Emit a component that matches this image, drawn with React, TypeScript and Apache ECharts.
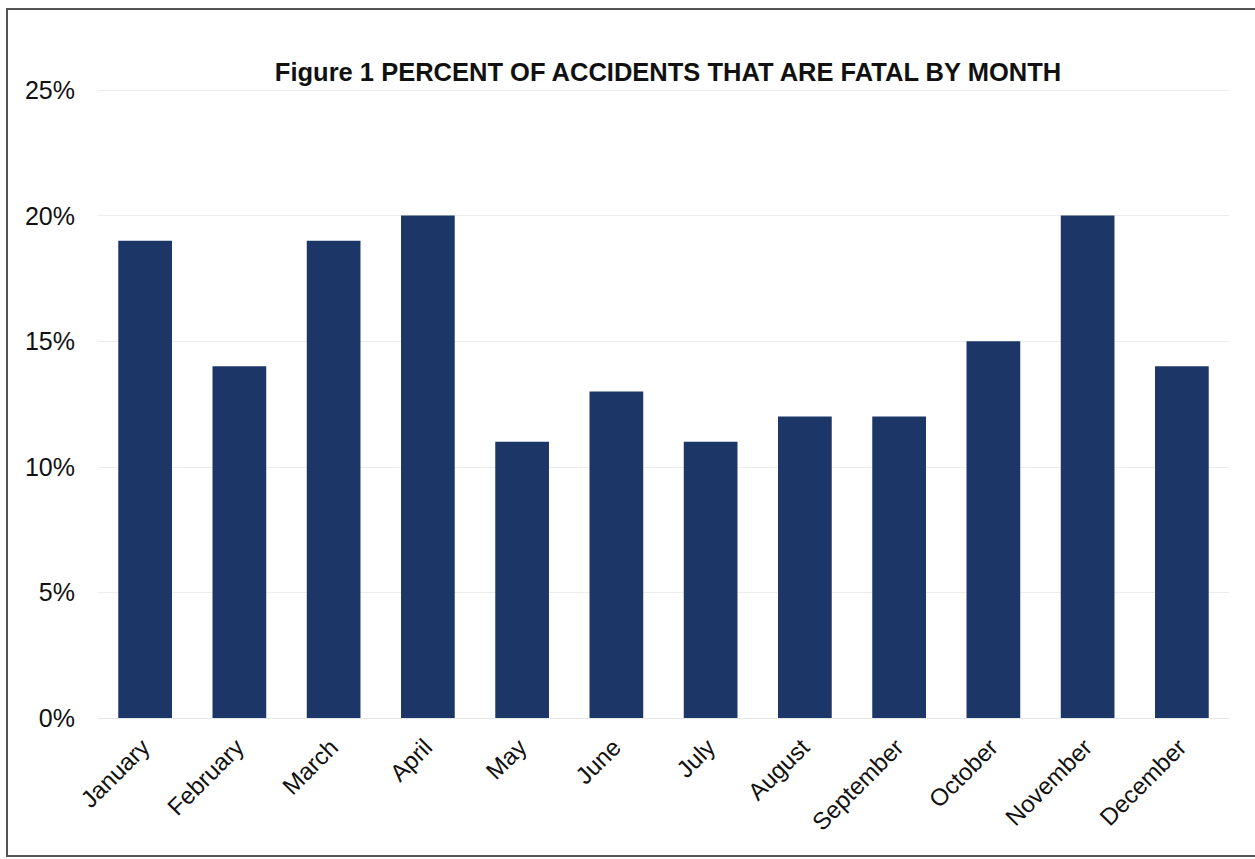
import React, { useEffect, useRef } from "react";
import * as echarts from "echarts";

const months = ["January", "February", "March", "April", "May", "June", "July", "August", "September", "October", "November", "December"];
const fatalPercent = [19, 14, 19, 20, 11, 13, 11, 12, 12, 15, 20, 14];
const titleText = "Figure 1 PERCENT OF ACCIDENTS THAT ARE FATAL BY MONTH";

export default function App() {
  const ref = useRef<HTMLDivElement>(null);
  useEffect(() => {
    if (!ref.current) return;
    const chart = echarts.init(ref.current, undefined, { renderer: "svg" });
    chart.setOption({
      animation: false,
      backgroundColor: "#ffffff",
      title: {
        text: titleText,
        left: 663,
        textAlign: "center",
        top: 54,
        textStyle: { fontFamily: "Liberation Sans, Arial, sans-serif", fontSize: 25.5, fontWeight: "bold", color: "#111" },
      },
      grid: { left: 98, right: 26, top: 90, bottom: 141, containLabel: false },
      xAxis: {
        type: "category",
        data: months,
        axisLine: { show: true, lineStyle: { color: "#e6e6e6", width: 1 } },
        axisTick: { show: false },
        axisLabel: {
          rotate: 45,
          interval: 0,
          margin: 25,
          fontFamily: "Liberation Sans, Arial, sans-serif",
          fontSize: 24,
          color: "#111",
        },
      },
      yAxis: {
        type: "value",
        min: 0,
        max: 25,
        interval: 5,
        axisLine: { show: false },
        axisTick: { show: false },
        splitLine: { lineStyle: { color: "#ececec", width: 1 } },
        axisLabel: {
          formatter: "{value}%",
          margin: 23,
          fontFamily: "Liberation Sans, Arial, sans-serif",
          fontSize: 25,
          color: "#111",
        },
      },
      series: [
        {
          type: "bar",
          data: fatalPercent,
          barCategoryGap: "43%",
          itemStyle: { color: "#1d3668" },
        },
      ],
    });
    return () => chart.dispose();
  }, []);
  return (
    <div style={{ position: "fixed", left: 0, top: 0, width: 1255, height: 859, background: "#fff" }}>
      <div ref={ref} style={{ position: "absolute", left: 0, top: 0, width: 1255, height: 859 }} />
      <div
        style={{
          position: "absolute",
          left: 6,
          top: 8,
          width: 1255 - 6,
          height: 859 - 8 - 2,
          border: "2px solid #555",
          borderRight: "none",
          boxSizing: "border-box",
          pointerEvents: "none",
        }}
      />
    </div>
  );
}
